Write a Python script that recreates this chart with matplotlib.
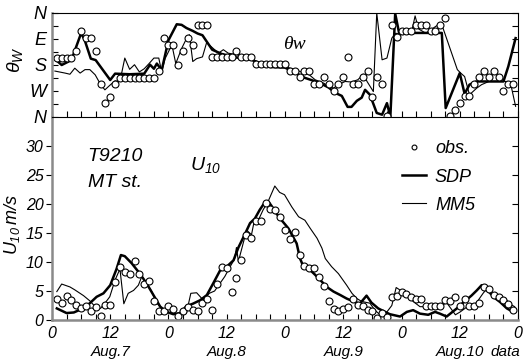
import numpy as np
import matplotlib
matplotlib.use("Agg")
import matplotlib.pyplot as plt
from matplotlib.ticker import MultipleLocator, FixedLocator
from matplotlib.lines import Line2D

plt.rcParams['font.family'] = ['Liberation Sans', 'DejaVu Sans']
plt.rcParams['font.style'] = 'italic'
plt.rcParams['mathtext.fontset'] = 'custom'
plt.rcParams['mathtext.it'] = 'Liberation Sans:italic'
plt.rcParams['mathtext.rm'] = 'Liberation Sans:italic'

# hourly observations (hours from Aug.7 00h)
obs_hours = np.arange(1, 96)
obs_dir = [204, 204, 204, 204, 227, 297, 273, 273, 227, 115, 48, 69,
           115, 135, 135, 135, 135, 135, 135, 135, 135, 158, 273, 250,
           250, 181, 227, 273, 250, 320, 320, 320, 207, 207, 207, 207,
           207, 230, 207, 207, 207, 183, 183, 183, 183, 183, 183, 183,
           160, 160, 137, 160, 160, 114, 114, 137, 114, 91, 114, 137,
           207, 114, 114, 137, 160, 68, 137, 114, 2, 320, 276, 297,
           297, 297, 320, 320, 320, 297, 297, 320, 343, 2, 25, 48,
           72, 72, 114, 137, 160, 137, 160, 137, 91, 114, 114]
obs_u = [3.7, 3.0, 4.2, 3.4, 2.6, 2.1, 2.5, 1.6, 2.3, 0.7, 2.6, 2.6,
         6.6, 9.1, 8.2, 7.9, 10.1, 8.0, 6.2, 6.7, 3.3, 1.5, 1.5, 2.4,
         1.9, 0.7, 1.5, 2.3, 1.8, 1.5, 3.0, 3.7, 1.7, 6.2, 9.2, 8.9,
         4.9, 7.2, 10.3, 14.7, 14.1, 17.1, 17.0, 20.2, 19.1, 19.0, 17.8, 15.5,
         13.9, 15.1, 11.2, 9.3, 8.9, 8.9, 7.5, 5.9, 3.2, 1.9, 1.6, 1.9,
         2.2, 3.7, 2.6, 2.5, 1.8, 1.6, 0.4, 1.2, 0.6, 4.0, 4.1, 4.8,
         4.4, 4.0, 3.7, 3.6, 2.4, 2.4, 2.4, 2.4, 3.4, 3.3, 4.0, 2.4,
         3.7, 2.4, 2.4, 3.0, 5.7, 5.3, 4.3, 3.9, 3.4, 2.8, 1.8]

# SDP wind direction
sdp_dir_t = [1, 2, 4, 6, 6.7, 8, 9, 12, 13, 16, 19, 20.2, 21, 21.6, 22.6, 24, 25.7, 26.7, 27.7, 29,
             30, 31, 32.4, 33, 35, 38, 41, 43, 45, 48, 50, 52, 55, 57, 58.3, 59.7, 60.9, 61.7, 62.8, 63.8,
             64.5, 65.5, 66.9, 68, 69, 69.7, 70.7, 71.5, 80.3, 81.1, 84, 85, 86, 87.4, 93, 94, 95.5]
sdp_dir = [195, 180, 197, 290, 268, 202, 197, 128, 150, 148, 150, 181, 167, 185, 162, 266, 321, 319, 308, 298,
           289, 283, 248, 233, 218, 206, 199, 184, 173, 171, 154, 136, 119, 102, 84, 73, 35, 35, 56, 67,
           94, 77, 14, 8, 48, 1, 358, 291, 291, 31, 152, 80, 112, 123, 123, 175, 273]

# MM5 wind direction
mm5_dir_t = [0.6, 2.7, 3.7, 4.7, 5.8, 6.8, 7.8, 8.9, 10, 10.9, 12, 13, 14, 15, 16, 17, 18, 19, 20, 21,
             22, 22.6, 23.3, 24.7, 25.5, 26.7, 27.7, 28.3, 29, 29.8, 31, 31.9, 32.5, 34.3, 35.3, 36.3, 39.8, 41, 43, 45,
             48, 51, 53, 54.2, 56, 57, 58, 59, 60.4, 61.7, 63, 64.2, 64.9, 66.2, 66.9, 68, 69, 70, 70.8, 72,
             74, 74.8, 75.5, 77, 79.6, 80.5, 83.5, 84.2, 85, 86, 87.5, 88.5, 90, 94, 94.6, 95.5]
mm5_dir = [159, 152, 148, 169, 152, 164, 164, 146, 113, 94, 111, 125, 123, 204, 165, 181, 156, 167, 185, 204,
           204, 156, 202, 250, 185, 237, 271, 285, 192, 202, 208, 260, 248, 221, 233, 221, 210, 202, 187, 181,
           175, 158, 146, 129, 117, 106, 100, 112, 123, 121, 129, 148, 123, 88, 360, 198, 204, 273, 290, 285,
           288, 350, 305, 290, 320, 310, 164, 152, 140, 77, 100, 112, 123, 123, 106, 37]

# SDP wind speed
sdp_u_t = [1, 3, 4.5, 6.4, 7.8, 9.2, 10.6, 12, 13.3, 14.2, 15, 16.4, 18.1, 19.5, 20.9, 22.3, 23.6, 25, 26.4, 27.7,
           29, 30.5, 31.9, 33.2, 34.6, 36, 37.4, 38.4, 39.8, 40.8, 41.8, 42.8, 43.7, 44.6, 45.2, 46.2, 47.3, 48.7, 50.4, 51.1,
           51.8, 53.2, 54.2, 55.6, 56.6, 58, 59.4, 60.7, 62.1, 63.4, 64.8, 65.8, 67.2, 68.6, 69.6, 71.7, 73.1, 74.4, 75.8, 77.5,
           78.9, 79.9, 81.3, 83.4, 84.7, 86.4, 87.5, 88.5, 89.5, 90.9, 92.3, 93.7, 95]
sdp_u = [2.0, 1.2, 1.3, 2.0, 2.9, 4.0, 4.6, 6.0, 8.8, 11.2, 11.0, 9.8, 8.0, 6.3, 4.3, 2.3, 1.4, 1.0, 1.2, 2.4,
         2.8, 3.4, 4.3, 6.3, 8.5, 9.2, 10.3, 12.5, 14.9, 16.7, 17.5, 19.0, 20.1, 20.4, 19.7, 18.4, 17.2, 15.8, 13.2, 10.6,
         9.2, 8.6, 7.8, 6.6, 5.7, 4.9, 4.3, 3.7, 3.2, 2.8, 4.2, 3.0, 2.0, 1.4, 1.0, 0.6, 1.4, 1.7, 1.1, 0.9,
         1.4, 1.1, 0.6, 2.0, 3.0, 4.2, 5.1, 6.0, 5.4, 4.0, 3.1, 2.0, 1.4]

# MM5 wind speed
mm5_u_t = [1, 2, 3.7, 4.7, 6.5, 7.8, 8.9, 10, 11, 11.9, 13, 14, 14.8, 15.7, 16.8, 17.8, 18.5, 19.5, 20.5, 21.6,
           23, 24.5, 25.7, 26.7, 27.7, 28.6, 29.8, 31.2, 32.4, 33.5, 35.6, 36.7, 37.6, 38, 38.4, 39, 40.1, 41.1, 41.6, 42.5,
           43.5, 44.5, 45.9, 46.9, 47.9, 49.4, 50.8, 52.1, 53.2, 54.6, 55.6, 56.3, 57.6, 59, 60.7, 61.8, 62.8, 63.8, 65.5, 66.5,
           67.6, 69, 70, 70.9, 72, 73.1, 74.4, 75.8, 77.2, 79.9, 81.3, 83.1, 84.1, 85.4, 86.8, 87.8, 88.8, 89.8, 90.9, 92.3,
           93.7, 94.7, 95.3]
mm5_u = [4.9, 6.2, 5.7, 5.2, 4.2, 3.3, 2.3, 2.0, 3.0, 4.0, 6.9, 8.8, 2.8, 4.6, 5.1, 6.0, 7.5, 6.3, 5.0, 2.9,
         1.7, 1.2, 0.9, 1.4, 1.2, 4.6, 4.7, 3.4, 4.6, 5.0, 7.5, 9.2, 10.5, 12.5, 10.1, 12.0, 15.5, 14.7, 16.8, 17.2,
         19.0, 20.4, 23.1, 22.0, 21.6, 19.5, 17.8, 17.2, 15.8, 14.1, 12.4, 10.6, 9.2, 8.0, 6.0, 4.6, 3.7, 3.2, 2.9, 1.7,
         0.9, 1.4, 2.5, 5.6, 5.0, 4.3, 3.2, 2.3, 2.3, 2.3, 3.0, 0.9, 1.4, 2.2, 2.3, 3.4, 4.6, 5.6, 4.1, 3.9,
         3.4, 2.6, 2.3]

dir_ticks = [0, 90, 180, 270, 360]
dir_labels = ['N', 'W', 'S', 'E', 'N']
hour_ticks = [0, 12, 24, 36, 48, 60, 72, 84, 96]
hour_labels = ['0', '12', '0', '12', '0', '12', '0', '12', '0']
day_pos = [12, 36, 60, 84]
day_labels = ['Aug.7', 'Aug.8', 'Aug.9', 'Aug.10']

fig = plt.figure(figsize=(5.25, 3.62), dpi=100)
ax1 = fig.add_axes([0.099, 0.6768, 0.8877, 0.2873])
ax2 = fig.add_axes([0.099, 0.1160, 0.8877, 0.5608])

grey = '#8a8a8a'

# ---- direction panel
ax1.plot(mm5_dir_t, mm5_dir, color='black', lw=0.8)
ax1.plot(sdp_dir_t, sdp_dir, color='black', lw=1.8)
ax1.plot(obs_hours, obs_dir, 'o', ms=5, mfc='white', mec='black', mew=0.8)
ax1.set_xlim(0, 96)
ax1.set_ylim(0, 360)
ax1.set_yticks(dir_ticks)
ax1.set_yticklabels(dir_labels, fontsize=13)
ax1.yaxis.set_minor_locator(MultipleLocator(45))
ax1.xaxis.set_major_locator(MultipleLocator(3))
ax1.set_xticklabels([])
ax1.tick_params(axis='x', which='both', direction='in', length=4, width=0.8, top=False)
ax1.tick_params(axis='y', which='both', direction='in', length=4, width=0.8, right=True, pad=4)
ax1.set_ylabel(r'$\theta_W$', fontsize=14)
ax1.yaxis.set_label_coords(-0.058, 0.55)
ax1.text(0.496, 0.70, 'θw', transform=ax1.transAxes, fontsize=14,
         family='Liberation Serif', style='italic', va='center')
ax1.spines['left'].set_color(grey)
ax1.spines['left'].set_linewidth(1.8)
ax1.spines['bottom'].set_visible(False)

# ---- speed panel
ax2.plot(mm5_u_t, mm5_u, color='black', lw=0.8)
ax2.plot(sdp_u_t, sdp_u, color='black', lw=1.8)
ax2.plot(obs_hours, obs_u, 'o', ms=5, mfc='white', mec='black', mew=0.8)
ax2.set_xlim(0, 96)
ax2.set_ylim(0, 35)
ax2.set_yticks([0, 5, 10, 15, 20, 25, 30])
ax2.set_yticklabels(['0', '5', '10', '15', '20', '25', '30'], fontsize=11.5)
ax2.xaxis.set_major_locator(FixedLocator(hour_ticks))
ax2.set_xticklabels(hour_labels, fontsize=11.5)
ax2.xaxis.set_minor_locator(MultipleLocator(3))
ax2.tick_params(axis='x', which='both', direction='in', length=4, width=0.8, pad=4)
ax2.tick_params(axis='y', which='major', direction='out', length=4, width=0.8, pad=2, right=True)
for tick in ax2.yaxis.get_major_ticks():
    tick.tick2line.set_marker(matplotlib.lines.TICKLEFT)
    tick.tick2line.set_markersize(4)
ax2.set_ylabel(r'$U_{10}\,m/s$', fontsize=13)
ax2.yaxis.set_label_coords(-0.064, 0.47)
for s in ['left', 'bottom']:
    ax2.spines[s].set_color(grey)
    ax2.spines[s].set_linewidth(1.8)
ax2.spines['top'].set_linewidth(0.8)

for p, lab in zip(day_pos, day_labels):
    ax2.text(p, -0.158, lab, transform=ax2.get_xaxis_transform(), ha='center', va='center', fontsize=11)
ax2.text(93.4, -0.158, 'data', transform=ax2.get_xaxis_transform(), ha='center', va='center', fontsize=11)

ax2.text(0.075, 0.803, 'T9210', transform=ax2.transAxes, fontsize=14, va='center')
ax2.text(0.077, 0.675, 'MT st.', transform=ax2.transAxes, fontsize=14, va='center')
ax2.text(0.296, 0.764, r'$U_{10}$', transform=ax2.transAxes, fontsize=14, va='center')

handles = [Line2D([], [], ls='none', marker='o', ms=3.5, mfc='white', mec='black', mew=0.8),
           Line2D([], [], color='black', lw=1.8),
           Line2D([], [], color='black', lw=0.8)]
ax2.legend(handles, ['obs.', 'SDP', 'MM5'], loc='upper left', bbox_to_anchor=(0.752, 0.885),
           frameon=False, fontsize=13, handlelength=1.3, handletextpad=0.5, labelspacing=0.62,
           borderpad=0, borderaxespad=0)

fig.savefig('out.png', dpi=100)
